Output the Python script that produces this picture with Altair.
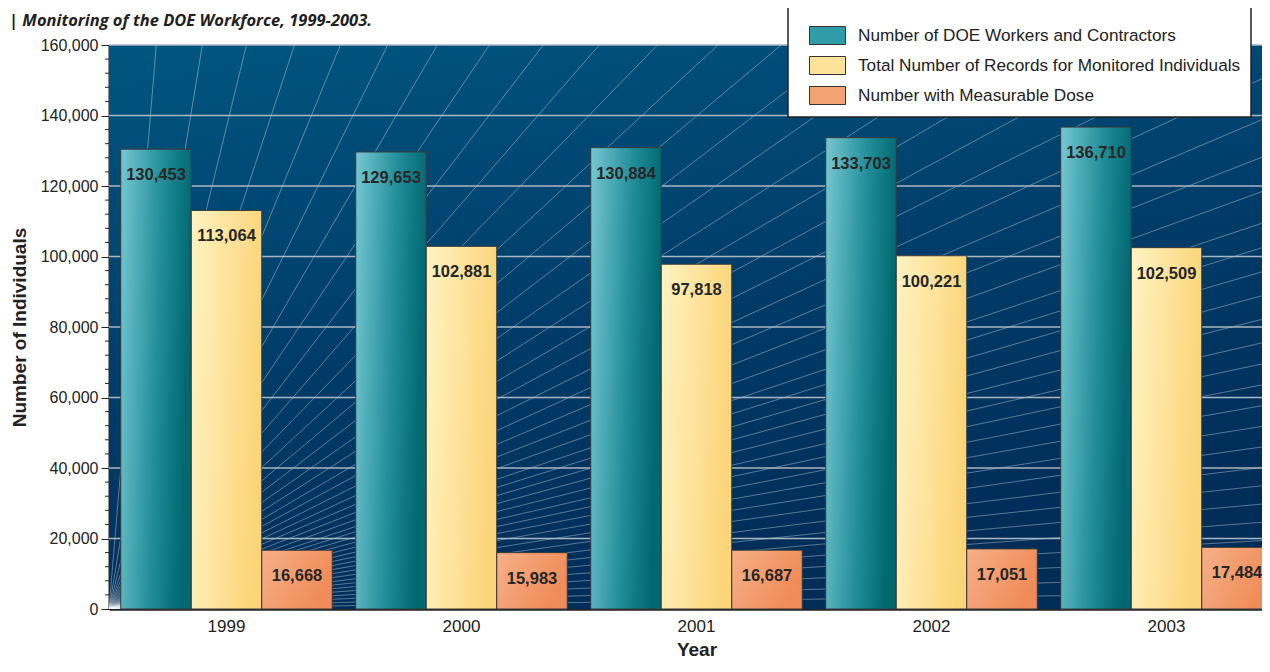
import altair as alt
import pandas as pd

# ---------------- data ----------------
title_text = "| Monitoring of the DOE Workforce, 1999-2003."
years = ["1999", "2000", "2001", "2002", "2003"]
series = [
    "Number of DOE Workers and Contractors",
    "Total Number of Records for Monitored Individuals",
    "Number with Measurable Dose",
]
workers = [130453, 129653, 130884, 133703, 136710]
records = [113064, 102881, 97818, 100221, 102509]
dose = [16668, 15983, 16687, 17051, 17484]

y_ticks = [0, 20000, 40000, 60000, 80000, 100000, 120000, 140000, 160000]
minor_ticks = [v for v in range(0, 160001, 4000) if v % 20000]
# decorative fan of light lines (degrees above horizontal, from the lower-left corner)
fan_angles = [0.8, 1.6, 2.5, 3.4, 4.3, 5.2, 6.1, 7.0, 8.0, 9.0, 10.0, 11.0, 12.0,
              13.0, 14.1, 15.2, 16.3, 17.4, 18.5, 19.9, 21.4, 23.0, 24.7, 26.5,
              28.4, 30.4, 32.6, 34.9, 37.4, 40.0, 42.8, 45.8, 49.0, 52.4, 56.0,
              59.8, 63.7, 67.7, 71.8, 76.3, 80.6, 85.2]

W, H = 1175, 564
FONT = "Liberation Sans"
INK = "#222222"

rows = []
for s, vals in zip(series, [workers, records, dose]):
    for yr, v in zip(years, vals):
        rows.append({"Year": yr, "Series": s, "Value": v})
df = pd.DataFrame(rows)

x_enc = alt.X(
    "Year:N",
    sort=years,
    scale=alt.Scale(domain=years, paddingInner=0.1, paddingOuter=0.05),
    axis=alt.Axis(
        title="Year", labelAngle=0, labelFont=FONT, labelFontSize=17, labelColor=INK,
        labelPadding=9, ticks=False, tickSize=0, domainColor=INK, domainWidth=2.5,
        titleFont=FONT, titleFontSize=19, titleFontWeight="bold", titleColor=INK,
        titlePadding=6, grid=False,
    ),
)
xo_enc = alt.XOffset("Series:N", sort=series,
                     scale=alt.Scale(domain=series, paddingInner=0, paddingOuter=0))
y_enc = alt.Y(
    "Value:Q",
    scale=alt.Scale(domain=[0, 160000], nice=False),
    axis=alt.Axis(
        values=y_ticks, format=",d", title="Number of Individuals",
        titleFont=FONT, titleFontSize=19, titleFontWeight="bold", titleColor=INK,
        titlePadding=11, labelFont=FONT, labelFontSize=16, labelColor=INK,
        labelPadding=3, tickSize=8, tickColor=INK, tickWidth=1,
        domainColor=INK, domainWidth=2, grid=False,
    ),
)

# ---------------- decoration layers ----------------
bg_grad = {
    "gradient": "linear", "x1": 0, "y1": 0, "x2": 0.35, "y2": 1,
    "stops": [
        {"offset": 0, "color": "#00567f"},
        {"offset": 0.55, "color": "#003c69"},
        {"offset": 1, "color": "#002c58"},
    ],
}
background = alt.Chart(pd.DataFrame({"k": [0]})).mark_rect(fill=bg_grad).encode(
    x=alt.value(0), x2=alt.value(W), y=alt.value(0), y2=alt.value(H)
)

fan_df = pd.DataFrame({"a": fan_angles})
fan = (
    alt.Chart(fan_df)
    .transform_calculate(t="(90 - datum.a) * PI / 180")
    .mark_arc(radius=3000, fillOpacity=0, stroke="white", strokeOpacity=0.28,
              strokeWidth=0.7, clip=True)
    .encode(
        theta=alt.Theta("t:Q", scale=None, stack=None),
        theta2=alt.Theta2("t:Q"),
        x=alt.value(0),
        y=alt.value(H),
    )
)

grid = alt.Chart(pd.DataFrame({"Value": y_ticks[1:]})).mark_rule(
    color="#aab6c2", strokeWidth=1.6
).encode(y=y_enc, x=alt.value(0), x2=alt.value(W))

minor = alt.Chart(pd.DataFrame({"Value": minor_ticks})).mark_rule(
    color=INK, strokeWidth=1
).encode(y=y_enc, x=alt.value(-4), x2=alt.value(0))

# ---------------- bars ----------------
grads = [
    {"gradient": "linear", "x1": 0, "y1": 0, "x2": 1, "y2": 0.2,
     "stops": [{"offset": 0, "color": "#76c7d2"}, {"offset": 0.6, "color": "#1f8c97"},
               {"offset": 1, "color": "#006870"}]},
    {"gradient": "linear", "x1": 0, "y1": 0, "x2": 1, "y2": 0.2,
     "stops": [{"offset": 0, "color": "#fff3c2"}, {"offset": 1, "color": "#fcd57a"}]},
    {"gradient": "linear", "x1": 0, "y1": 0, "x2": 1, "y2": 0.4,
     "stops": [{"offset": 0, "color": "#f6b089"}, {"offset": 1, "color": "#f08c59"}]},
]
legend_colors = ["#2f9ca7", "#fde39a", "#f4a373"]

bar_layers = []
for s, g in zip(series, grads):
    bar_layers.append(
        alt.Chart(df)
        .transform_filter(alt.datum.Series == s)
        .mark_bar(fill=g, stroke="#3a3a3a", strokeWidth=1)
        .encode(x=x_enc, xOffset=xo_enc, y=y_enc)
    )

labels = alt.Chart(df).mark_text(
    dy=26, baseline="middle", align="center", font=FONT, fontSize=16.5,
    fontWeight="bold", color="#262626",
).encode(x=x_enc, xOffset=xo_enc, y=y_enc, text=alt.Text("Value:Q", format=",d"))

legend_layer = alt.Chart(df).mark_square(opacity=0).encode(
    x=x_enc, xOffset=xo_enc, y=y_enc,
    color=alt.Color(
        "Series:N",
        scale=alt.Scale(domain=series, range=legend_colors),
        legend=alt.Legend(
            orient="none", legendX=679, legendY=-38, title=None,
            fillColor="white", strokeColor="#222222", padding=10,
            symbolType="M-1,-0.5H1V0.5H-1Z", symbolSize=1296, symbolOpacity=1,
            symbolStrokeColor="#333333", symbolStrokeWidth=1, symbolOffset=11,
            labelFont=FONT, labelFontSize=17.2, labelColor=INK, labelOffset=12,
            labelLimit=0, rowPadding=0,
        ),
    ),
)

title_layer = alt.Chart(pd.DataFrame({"t": [title_text]})).mark_text(
    align="left", baseline="alphabetic", font="Open Sans", fontSize=16.5,
    fontStyle="italic", fontWeight="bold", color="#231f20",
).encode(text="t:N", x=alt.value(-100), y=alt.value(-19))

chart = (
    alt.layer(background, fan, grid, *bar_layers, labels, legend_layer, minor, title_layer)
    .properties(
        width=W, height=H,
        autosize=alt.AutoSizeParams(type="none"),
        padding={"left": 101, "top": 37, "right": -22, "bottom": 50},
    )
    .configure_view(stroke=None)
    .configure_legend(strokeWidth=1.5)
)

chart.save("out.html", embed_options={"renderer": "svg", "actions": False})
